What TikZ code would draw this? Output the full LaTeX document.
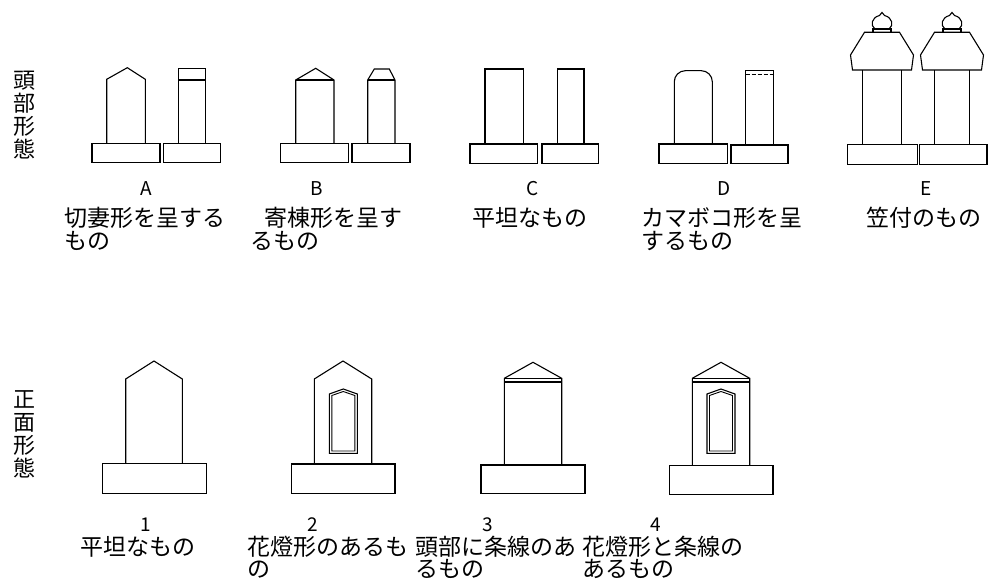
\documentclass[tikz,border=0pt]{standalone}
\usepackage{fontspec}
\setmainfont{Noto Sans CJK JP}
\begin{document}
\begin{tikzpicture}[x=1pt,y=-1pt,
  stone/.style={line width=1.1pt, line join=miter},
  thinline/.style={line width=0.9pt},
  letter/.style={font=\fontsize{19}{21}\selectfont, anchor=base, inner sep=0pt},
  caption/.style={font=\fontsize{23}{23}\selectfont, anchor=base west, inner sep=0pt},
  sidelabel/.style={font=\fontsize{22}{23}\selectfont, align=center, inner sep=0pt}]
\useasboundingbox (0,0) rectangle (989,580);

% ---------- side headings ----------
\node[sidelabel] (h1) at (24,115) {頭\\部\\形\\態};
\node[sidelabel] (h2) at (24,434) {正\\面\\形\\態};

% ---------- A : gable top ----------
\draw[stone] (106.7,143.3) -- (106.7,79.3) -- (127.3,67.7) -- (145.3,79.3) -- (145.3,143.3);
\draw[stone] (92,143.3) rectangle (160,162.7);
\draw[stone] (178.7,143.3) rectangle (205.3,68.3);
\draw[stone] (178.7,80) -- (205.3,80);
\draw[stone] (163.3,143.3) rectangle (220.7,162.7);

% ---------- B : hipped top ----------
\draw[stone] (295.7,143.3) -- (295.7,80) -- (315.7,68.3) -- (334,80) -- (334,143.3);
\draw[stone] (295.7,80) -- (334,80);
\draw[stone] (280.7,143.3) rectangle (348.7,162.7);
\draw[stone] (367.7,143.3) -- (367.7,80) -- (374.3,69) -- (389.3,69) -- (395,80) -- (395,143.3);
\draw[stone] (367.7,80) -- (395,80);
\draw[stone] (352,143.3) rectangle (410,162.7);

% ---------- C : flat top ----------
\draw[stone] (485,144) rectangle (523.3,69);
\draw[stone] (470,144) rectangle (537.7,163.3);
\draw[stone] (557.3,144) rectangle (584,69);
\draw[stone] (542,144) rectangle (598.7,163.3);

% ---------- D : kamaboko top ----------
\draw[stone, rounded corners=11pt] (674.3,144) -- (674.3,70.7) -- (712.3,70.7) -- (712.3,144);
\draw[stone] (659,144) rectangle (727.7,163.3);
\draw[stone] (745.7,145) rectangle (773.3,70.7);
\draw[thinline, dash pattern=on 4pt off 2pt] (745.7,74.5) -- (773.3,74.5);
\draw[stone] (731,145) rectangle (788,163.3);

% ---------- E : with cap ----------
\foreach \cx/\sw/\bl/\br in {882/19.2/847.3/917.3, 952/17.5/919.3/987}{
  \draw[stone] (\cx-\sw,144.3) -- (\cx-\sw,70);
  \draw[stone] (\cx+\sw,144.3) -- (\cx+\sw,70);
  \draw[stone] (\bl,144.3) rectangle (\br,164.3);
  \draw[stone] (\cx-17.5,32.3) -- (\cx-31.5,55) -- (\cx-29.5,70) -- (\cx+29.5,70)
               -- (\cx+31.5,55) -- (\cx+17.5,32.3) -- cycle;
  \draw[stone] (\cx-9,29) rectangle (\cx+9,32.3);
  \draw[stone] (\cx-7,29) .. controls (\cx-12,25.5) and (\cx-10.5,17.5) .. (\cx-2.5,15.5)
               -- (\cx,12.5) -- (\cx+2.5,15.5)
               .. controls (\cx+10.5,17.5) and (\cx+12,25.5) .. (\cx+7,29);
}

% ---------- top captions ----------
\node[letter] (la) at (146,196) {A};
\node[caption] (ta1) at (64,226.5) {切妻形を呈する};
\node[caption] (ta2) at (64,249.5) {もの};
\node[letter] (lb) at (317,196) {B};
\node[caption] (tb1) at (264,226.5) {寄棟形を呈す};
\node[caption] (tb2) at (250,249.5) {るもの};
\node[letter] (lc) at (533,196) {C};
\node[caption] (tc1) at (472,226.5) {平坦なもの};
\node[letter] (ld) at (724,196) {D};
\node[caption] (td1) at (641,226.5) {カマボコ形を呈};
\node[caption] (td2) at (641,249.5) {するもの};
\node[letter] (le) at (926,196) {E};
\node[caption] (te1) at (866,226.5) {笠付のもの};

% ---------- 1 : plain face ----------
\draw[stone] (125.7,463.3) -- (125.7,379) -- (154,361) -- (182.3,379) -- (182.3,463.3);
\draw[stone] (102.7,463.3) rectangle (206.7,493.3);

% ---------- 2 : lantern-shaped window ----------
\draw[stone] (314.3,464) -- (314.3,379) -- (343,361) -- (371.7,379) -- (371.7,464);
\draw[stone] (291.7,464) rectangle (395,493.3);
\draw[stone] (329.3,453.3) -- (329.3,394) -- (343.3,389) -- (357.3,394) -- (357.3,453.3) -- cycle;
\draw[thinline] (331.8,451) -- (331.8,395.5) -- (343.3,391.5) -- (354.8,395.5) -- (354.8,451) -- cycle;

% ---------- 3 : striped head ----------
\draw[stone] (504.3,465) -- (504.3,378.3) -- (533,362.3) -- (561.7,378.3) -- (561.7,465);
\draw[stone] (504.3,378.3) -- (561.7,378.3);
\draw[line width=1.8pt] (504.3,382.3) -- (561.7,382.3);
\draw[stone] (481,465) rectangle (585,493.3);

% ---------- 4 : window and stripes ----------
\draw[stone] (692.3,465.7) -- (692.3,378.3) -- (721,362.3) -- (749.7,378.3) -- (749.7,465.7);
\draw[stone] (692.3,378.3) -- (749.7,378.3);
\draw[line width=1.8pt] (692.3,382.3) -- (749.7,382.3);
\draw[stone] (669.3,465.7) rectangle (773,494.3);
\draw[stone] (707,453.3) -- (707,394) -- (721,389) -- (735,394) -- (735,453.3) -- cycle;
\draw[thinline] (709.5,451) -- (709.5,395.5) -- (721,391.5) -- (732.5,395.5) -- (732.5,451) -- cycle;

% ---------- bottom captions ----------
\node[letter] (l1) at (146,531) {1};
\node[caption] (t11) at (80,555.5) {平坦なもの};
\node[letter] (l2) at (313,531) {2};
\node[caption] (t21) at (247,555.5) {花燈形のあるも};
\node[caption] (t22) at (247,577.5) {の};
\node[letter] (l3) at (488,531) {3};
\node[caption] (t31) at (415,555.5) {頭部に条線のあ};
\node[caption] (t32) at (415,577.5) {るもの};
\node[letter] (l4) at (656,531) {4};
\node[caption] (t41) at (582,555.5) {花燈形と条線の};
\node[caption] (t42) at (582,577.5) {あるもの};
\end{tikzpicture}
\end{document}
